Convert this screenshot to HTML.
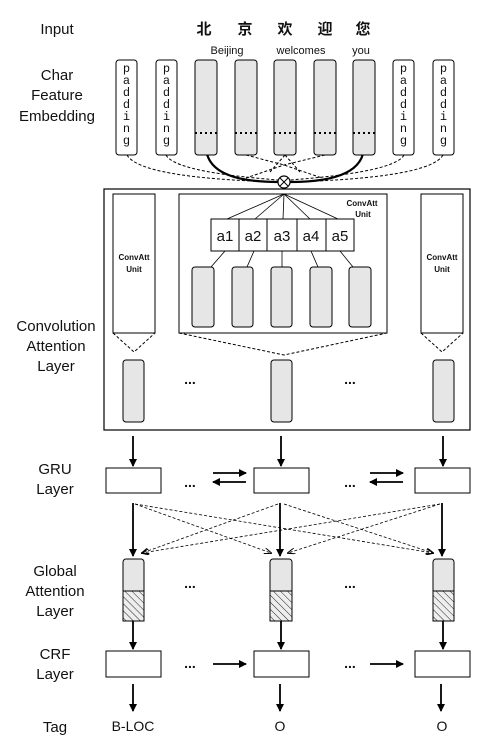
<!DOCTYPE html>
<html><head><meta charset="utf-8"><style>
html,body{margin:0;padding:0;background:#fff;}
svg{display:block;}
text{font-family:"Liberation Sans","Noto Sans CJK SC",sans-serif;fill:#111;}
.lbl{font-size:15px;text-anchor:middle;}
.mono{font-family:"Liberation Mono",monospace;font-size:12px;text-anchor:middle;}
</style></head><body>
<svg width="501" height="742" viewBox="0 0 501 742" xmlns="http://www.w3.org/2000/svg">
<defs>
<marker id="ah" markerWidth="8" markerHeight="8" refX="7" refY="4" orient="auto" markerUnits="userSpaceOnUse"><path d="M0,0 L8,4 L0,8 z" fill="#000"/></marker>
<marker id="ahd" markerWidth="8" markerHeight="6" refX="7" refY="3" orient="auto" markerUnits="userSpaceOnUse"><path d="M0,0 L8,3 L0,6" fill="none" stroke="#000"/></marker>
<pattern id="hatch" width="5" height="5" patternUnits="userSpaceOnUse" patternTransform="rotate(-45)"><rect width="5" height="5" fill="#eee"/><line x1="0" y1="0" x2="0" y2="5" stroke="#222" stroke-width="1"/></pattern>
</defs>
<text class="lbl" x="57" y="34">Input</text>
<text class="lbl" x="57" y="80">Char</text>
<text class="lbl" x="57" y="100">Feature</text>
<text class="lbl" x="57" y="121">Embedding</text>
<text class="lbl" x="56" y="331">Convolution</text>
<text class="lbl" x="56" y="351">Attention</text>
<text class="lbl" x="56" y="371">Layer</text>
<text class="lbl" x="55" y="474">GRU</text>
<text class="lbl" x="55" y="494">Layer</text>
<text class="lbl" x="55" y="576">Global</text>
<text class="lbl" x="55" y="596">Attention</text>
<text class="lbl" x="55" y="616">Layer</text>
<text class="lbl" x="55" y="659">CRF</text>
<text class="lbl" x="55" y="679">Layer</text>
<text class="lbl" x="55" y="732">Tag</text>
<g font-size="15" font-weight="bold" text-anchor="middle">
<text x="204" y="34">北</text><text x="245" y="34">京</text><text x="285" y="34">欢</text><text x="325" y="34">迎</text><text x="363" y="34">您</text>
</g>
<g font-size="11" text-anchor="middle">
<text x="227" y="54">Beijing</text><text x="301" y="54">welcomes</text><text x="361" y="54">you</text>
</g>
<g fill="none" stroke="#000" stroke-width="1" stroke-dasharray="3,2">
<path d="M127,155 Q140,178 278,182"/>
<path d="M166,155 Q175,172 278,180"/>
<path d="M246,155 L284,165 L322,178"/>
<path d="M325,155 L284,165 L246,178"/>
<path d="M285,155 L270,172"/><path d="M285,155 L300,172"/>
<path d="M404,155 Q395,172 290,180"/>
<path d="M443,155 Q430,178 290,182"/>
</g>
<path d="M206,146 Q206,182 278,182" fill="none" stroke="#000" stroke-width="2.2"/>
<path d="M364,146 Q364,182 290,182" fill="none" stroke="#000" stroke-width="2.2"/>
<g stroke="#000" stroke-width="1">
<rect x="116" y="60" width="21" height="95" rx="3" fill="#fff"/>
<rect x="156" y="60" width="21" height="95" rx="3" fill="#fff"/>
<rect x="195" y="60" width="22" height="95" rx="3" fill="#e6e6e6"/>
<rect x="235" y="60" width="22" height="95" rx="3" fill="#e6e6e6"/>
<rect x="274" y="60" width="22" height="95" rx="3" fill="#e6e6e6"/>
<rect x="314" y="60" width="22" height="95" rx="3" fill="#e6e6e6"/>
<rect x="353" y="60" width="22" height="95" rx="3" fill="#e6e6e6"/>
<rect x="393" y="60" width="21" height="95" rx="3" fill="#fff"/>
<rect x="433" y="60" width="21" height="95" rx="3" fill="#fff"/>
</g>
<g stroke="#000" stroke-width="2" stroke-dasharray="2,3">
<line x1="195" y1="133" x2="217" y2="133"/><line x1="235" y1="133" x2="257" y2="133"/><line x1="274" y1="133" x2="296" y2="133"/><line x1="314" y1="133" x2="336" y2="133"/><line x1="353" y1="133" x2="375" y2="133"/>
</g>
<g>
<text class="mono"><tspan x="126.5" y="72">p</tspan><tspan x="126.5" y="84">a</tspan><tspan x="126.5" y="96">d</tspan><tspan x="126.5" y="108">d</tspan><tspan x="126.5" y="120">i</tspan><tspan x="126.5" y="132">n</tspan><tspan x="126.5" y="144">g</tspan></text>
<text class="mono"><tspan x="166.5" y="72">p</tspan><tspan x="166.5" y="84">a</tspan><tspan x="166.5" y="96">d</tspan><tspan x="166.5" y="108">d</tspan><tspan x="166.5" y="120">i</tspan><tspan x="166.5" y="132">n</tspan><tspan x="166.5" y="144">g</tspan></text>
<text class="mono"><tspan x="403.5" y="72">p</tspan><tspan x="403.5" y="84">a</tspan><tspan x="403.5" y="96">d</tspan><tspan x="403.5" y="108">d</tspan><tspan x="403.5" y="120">i</tspan><tspan x="403.5" y="132">n</tspan><tspan x="403.5" y="144">g</tspan></text>
<text class="mono"><tspan x="443.5" y="72">p</tspan><tspan x="443.5" y="84">a</tspan><tspan x="443.5" y="96">d</tspan><tspan x="443.5" y="108">d</tspan><tspan x="443.5" y="120">i</tspan><tspan x="443.5" y="132">n</tspan><tspan x="443.5" y="144">g</tspan></text>
</g>
<circle cx="284" cy="182" r="6" fill="#fff" stroke="#000" stroke-width="1.2"/>
<line x1="280" y1="178" x2="288" y2="186" stroke="#000"/><line x1="288" y1="178" x2="280" y2="186" stroke="#000"/>
<rect x="104" y="189" width="366" height="241" fill="none" stroke="#000" stroke-width="1.2"/>
<rect x="113" y="194" width="42" height="139" fill="#fff" stroke="#000"/>
<rect x="421" y="194" width="42" height="139" fill="#fff" stroke="#000"/>
<rect x="179" y="194" width="208" height="139" fill="#fff" stroke="#000"/>
<g font-size="8" font-weight="bold" text-anchor="middle">
<text x="134" y="260">ConvAtt</text><text x="134" y="272">Unit</text>
<text x="442" y="260">ConvAtt</text><text x="442" y="272">Unit</text>
<text x="362" y="206">ConvAtt</text><text x="363" y="217">Unit</text>
</g>
<g stroke="#000" stroke-width="0.8">
<line x1="284" y1="194" x2="227" y2="219"/><line x1="284" y1="194" x2="255" y2="219"/><line x1="284" y1="194" x2="283" y2="219"/><line x1="284" y1="194" x2="310" y2="219"/><line x1="284" y1="194" x2="338" y2="219"/>
<line x1="225" y1="251" x2="211" y2="267"/><line x1="254" y1="251" x2="247" y2="267"/><line x1="282" y1="251" x2="282" y2="267"/><line x1="311" y1="251" x2="318" y2="267"/><line x1="340" y1="251" x2="353" y2="267"/>
</g>
<g stroke="#000" fill="#fff">
<rect x="211" y="219" width="28" height="32"/><rect x="239" y="219" width="28" height="32"/><rect x="267" y="219" width="30" height="32"/><rect x="297" y="219" width="29" height="32"/><rect x="326" y="219" width="28" height="32"/>
</g>
<g font-size="15" text-anchor="middle">
<text x="225" y="241">a1</text><text x="253" y="241">a2</text><text x="282" y="241">a3</text><text x="311" y="241">a4</text><text x="340" y="241">a5</text>
</g>
<g stroke="#000" fill="#e6e6e6">
<rect x="192" y="267" width="22" height="60" rx="3"/><rect x="232" y="267" width="21" height="60" rx="3"/><rect x="271" y="267" width="21" height="60" rx="3"/><rect x="310" y="267" width="22" height="60" rx="3"/><rect x="349" y="267" width="22" height="60" rx="3"/>
<rect x="123" y="360" width="21" height="62" rx="3"/><rect x="271" y="360" width="21" height="62" rx="3"/><rect x="433" y="360" width="21" height="62" rx="3"/>
</g>
<g fill="none" stroke="#000" stroke-dasharray="3,2">
<path d="M113,333 L134,352 L155,333"/><path d="M179,333 L284,355 L387,333"/><path d="M421,333 L442,352 L463,333"/>
</g>
<g font-size="14" font-weight="bold" text-anchor="middle">
<text x="190" y="384">...</text><text x="350" y="384">...</text>
<text x="190" y="487">...</text><text x="350" y="487">...</text>
<text x="190" y="588">...</text><text x="350" y="588">...</text>
<text x="190" y="668">...</text><text x="350" y="668">...</text>
</g>
<g stroke="#000" stroke-width="1.8" marker-end="url(#ah)">
<line x1="133" y1="436" x2="133" y2="466"/><line x1="281" y1="436" x2="281" y2="466"/><line x1="443" y1="436" x2="443" y2="466"/>
<line x1="213" y1="473" x2="246" y2="473"/><line x1="246" y1="482" x2="213" y2="482"/>
<line x1="370" y1="473" x2="403" y2="473"/><line x1="403" y1="482" x2="370" y2="482"/>
<line x1="133" y1="503" x2="133" y2="556"/><line x1="280" y1="503" x2="280" y2="556"/><line x1="442" y1="503" x2="442" y2="556"/>
<line x1="133" y1="621" x2="133" y2="649"/><line x1="281" y1="621" x2="281" y2="649"/><line x1="443" y1="621" x2="443" y2="649"/>
<line x1="213" y1="664" x2="246" y2="664"/><line x1="370" y1="664" x2="403" y2="664"/>
<line x1="133" y1="684" x2="133" y2="711"/><line x1="280" y1="684" x2="280" y2="711"/><line x1="441" y1="684" x2="441" y2="711"/>
</g>
<g fill="#fff" stroke="#000">
<rect x="106" y="468" width="55" height="25"/><rect x="254" y="468" width="55" height="25"/><rect x="415" y="468" width="55" height="25"/>
<rect x="106" y="651" width="55" height="26"/><rect x="254" y="651" width="55" height="26"/><rect x="415" y="651" width="55" height="26"/>
</g>
<g stroke="#000" stroke-width="0.8" stroke-dasharray="3,2" fill="none" marker-end="url(#ahd)">
<line x1="135" y1="504" x2="271" y2="553"/><line x1="135" y1="504" x2="433" y2="553"/>
<line x1="278" y1="504" x2="142" y2="553"/><line x1="284" y1="504" x2="433" y2="553"/>
<line x1="440" y1="504" x2="142" y2="553"/><line x1="440" y1="504" x2="288" y2="553"/>
</g>
<g stroke="#000">
<rect x="123" y="559" width="21" height="62" rx="3" fill="#e6e6e6"/>
<rect x="123" y="591" width="21" height="30" fill="url(#hatch)"/>
<rect x="270" y="559" width="22" height="62" rx="3" fill="#e6e6e6"/>
<rect x="270" y="591" width="22" height="30" fill="url(#hatch)"/>
<rect x="433" y="559" width="21" height="62" rx="3" fill="#e6e6e6"/>
<rect x="433" y="591" width="21" height="30" fill="url(#hatch)"/>
</g>
<g font-size="14" text-anchor="middle">
<text x="133" y="731">B-LOC</text><text x="280" y="731">O</text><text x="442" y="731">O</text>
</g>
</svg>
</body></html>
